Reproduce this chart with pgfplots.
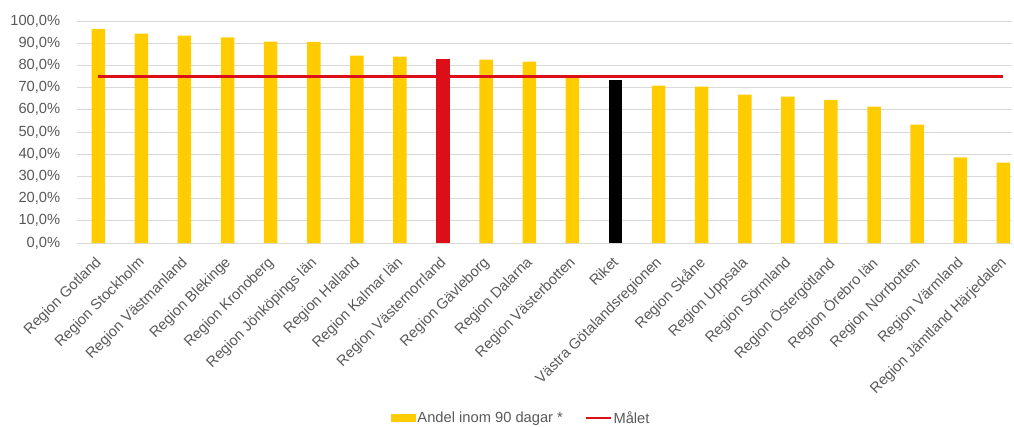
\documentclass[border=0pt]{standalone}
\usepackage{pgfplots}
\pgfplotsset{compat=1.18}
\usepackage{fontspec}
\setmainfont{Liberation Sans}
\definecolor{gelb}{HTML}{FFCC00}
\definecolor{rot}{HTML}{DC0F18}
\definecolor{txt}{HTML}{595959}
\definecolor{gridc}{HTML}{D9D9D9}
\begin{document}
\begin{tikzpicture}[x=1pt,y=1pt]
\useasboundingbox (-76.75,-183) rectangle (937.25,243);
\begin{axis}[
  at={(0,0)}, anchor=south west,
  scale only axis, width=935.25pt, height=222pt,
  xmin=-0.5, xmax=21.2, ymin=0, ymax=100,
  axis line style={draw=none},
  major tick length=0pt,
  ytick={0,10,...,100},
  xmajorgrids=false, ymajorgrids=true,
  major grid style={draw=gridc, line width=1pt},
  yticklabel={\pgfmathprintnumber[fixed,fixed zerofill,precision=1,use comma]{\tick}\%},
  /pgf/number format/assume math mode=true,
  yticklabel style={font=\fontsize{14.7}{16}\selectfont, text=txt, xshift=-13pt},
  xtick={0,...,21},
  xticklabels={Region Gotland,Region Stockholm,Region Västmanland,Region Blekinge,Region Kronoberg,Region Jönköpings län,Region Halland,Region Kalmar län,Region Västernorrland,Region Gävleborg,Region Dalarna,Region Västerbotten,Riket,Västra Götalandsregionen,Region Skåne,Region Uppsala,Region Sörmland,Region Östergötland,Region Örebro län,Region Norrbotten,Region Värmland,Region Jämtland Härjedalen},
  xticklabel style={font=\fontsize{14.7}{16}\selectfont, text=txt, xshift=-4pt, yshift=-11pt, rotate=45, anchor=north east, inner sep=1pt},
  ybar, bar width=13.5pt, bar shift=0pt,
  legend style={at={(0.475,-0.788)}, anchor=center, draw=none, fill=none,
    legend columns=2, font=\fontsize{14.7}{16}\selectfont, text=txt,
    /tikz/every even column/.append style={column sep=20pt},
    nodes={inner sep=1.5pt}},
  clip=false,
]
\addplot[fill=gelb, draw=none,
  legend image code/.code={\fill[gelb] (0pt,-3.8pt) rectangle (25pt,3.8pt);}]
  coordinates {(0,96.5) (1,94.3) (2,93.4) (3,92.6) (4,90.7) (5,90.6) (6,84.4) (7,83.9)
  (9,82.6) (10,81.7) (11,75.3) (13,70.9) (14,70.4) (15,66.8) (16,65.9) (17,64.5)
  (18,61.4) (19,53.3) (20,38.6) (21,36.2)};
\addlegendentry{Andel inom 90 dagar *}
\addplot[fill=rot, draw=none, forget plot] coordinates {(8,83.0)};
\addplot[fill=black, draw=none, forget plot] coordinates {(12,73.5)};
\addplot[sharp plot, draw=rot, line width=2.6pt, mark=none,
  legend image code/.code={\draw[rot, line width=2.6pt] (0pt,0pt) -- (25pt,0pt);}]
  coordinates {(0,75) (21,75)};
\addlegendentry{Målet}
\end{axis}
\end{tikzpicture}
\end{document}
